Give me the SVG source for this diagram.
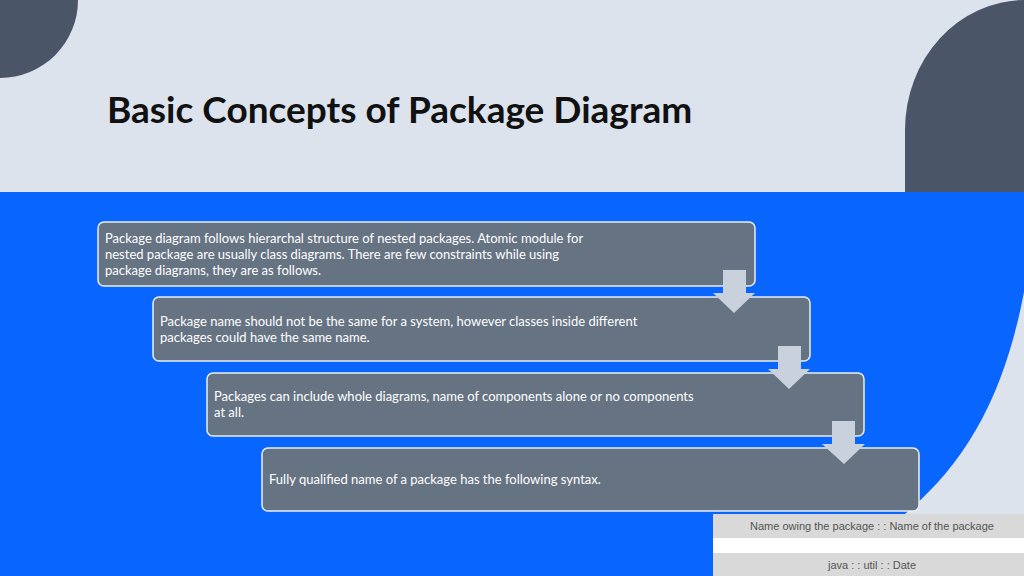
<svg xmlns="http://www.w3.org/2000/svg" width="1024" height="576" viewBox="0 0 1024 576">
<style>
.box{fill:#667383;stroke:#e8eef5;stroke-width:1.5}
.t{font-family:Lato,"Noto Sans",sans-serif;font-size:13px;fill:#ffffff}
.arr{fill:#c9d1dc}
.tb{font-family:"Liberation Sans",sans-serif;font-size:11px;fill:#555}
</style>
<rect width="1024" height="576" fill="#dce3ec"/>
<rect y="192" width="1024" height="384" fill="#0866ff"/>
<path d="M1030,255 C1010,400 960,480 870,540 L860,576 L1024,576 Z" fill="#dce3ec"/>
<path d="M0,0 L78,0 A78,78 0 0 1 0,78 Z" fill="#4a5568"/>
<path d="M905,192 L905,130 A120,130 0 0 1 1024,0 L1024,192 Z" fill="#4a5568"/>
<text x="107" y="123" font-family="Lato,'Noto Sans',sans-serif" font-weight="bold" font-size="37" fill="#111">Basic Concepts of Package Diagram</text>
<g id="n1"><rect class="box" x="98" y="222" width="657" height="64" rx="6"/>
<text class="t" x="105" y="243">Package diagram follows hierarchal structure of nested packages. Atomic module for</text>
<text class="t" x="105" y="259">nested package are usually class diagrams. There are few constraints while using</text>
<text class="t" x="105" y="275">package diagrams, they are as follows.</text></g>
<g id="n2"><rect class="box" x="153" y="297" width="657" height="64" rx="6"/>
<text class="t" x="160" y="326">Package name should not be the same for a system, however classes inside different</text>
<text class="t" x="160" y="342">packages could have the same name.</text></g>
<g id="n3"><rect class="box" x="207" y="373" width="657" height="63" rx="6"/>
<text class="t" x="214" y="401">Packages can include whole diagrams, name of components alone or no components</text>
<text class="t" x="214" y="417">at all.</text></g>
<g id="n4"><rect class="box" x="262" y="448" width="657" height="63" rx="6"/>
<text class="t" x="269" y="484">Fully qualified name of a package has the following syntax.</text></g>
<g id="connectors">
<path class="arr" d="M723,270 H746 V293 H755 L734,313 L713,293 H723 Z"/>
<path class="arr" d="M778,346 H801 V369 H810 L789,389 L768,369 H778 Z"/>
<path class="arr" d="M832,421 H855 V444 H865 L844,464 L822,444 H832 Z"/>
</g>
<g id="table">
<rect x="713" y="514" width="311" height="24" fill="#d9d9d9"/>
<rect x="713" y="538" width="311" height="15" fill="#ffffff"/>
<rect x="713" y="553" width="311" height="23" fill="#d9d9d9"/>
<text class="tb" x="872" y="530" text-anchor="middle">Name owing the package : : Name of the package</text>
<text class="tb" x="872" y="569" text-anchor="middle">java : : util : : Date</text>
</g>
</svg>
